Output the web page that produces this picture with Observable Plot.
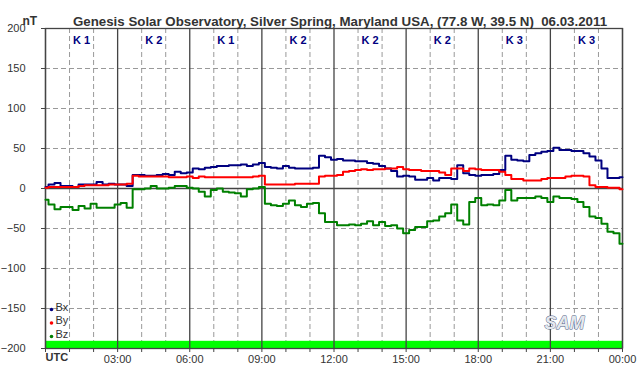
<!DOCTYPE html>
<html>
<head>
<meta charset="utf-8">
<script src="https://cdn.jsdelivr.net/npm/d3@7"></script>
<script src="https://cdn.jsdelivr.net/npm/@observablehq/plot@0.6"></script>
<style>
  html, body { margin: 0; padding: 0; background: #fff; }
  svg { display: block; }
</style>
</head>
<body>
<div id="chart"></div>
<script>
// Title / labels
const title = "Genesis Solar Observatory, Silver Spring, Maryland USA, (77.8 W, 39.5 N)  06.03.2011";
const unitLabel = "nT";
const kLabels = ["K 1", "K 2", "K 1", "K 2", "K 2", "K 2", "K 3", "K 3"];
const yTicks = [-200, -150, -100, -50, 0, 50, 100, 150, 200];
const xTickLabels = ["UTC", "03:00", "06:00", "09:00", "12:00", "15:00", "18:00", "21:00", "00:00"];
const seriesNames = ["Bx", "By", "Bz"];
const seriesColors = ["#000080", "#ff0000", "#008000"];

// Values every 15 minutes from 00:00 to 24:00 (nT)
const bx = [
  2, 5, 7, 3, 3, 2, 5, 5, 5, 8, 5, 6, 5, 5, 3, 17, 17, 16, 16, 17, 18, 17, 21, 19, 20,
  25, 24, 26, 27, 28, 28, 29, 29, 30, 28, 30, 32, 27, 26, 25, 28, 26, 25, 25, 25, 26, 41, 39, 36,
  37, 35, 35, 34, 34, 32, 31, 28, 25, 22, 15, 16, 15, 11, 11, 13, 10, 13, 13, 12, 29, 19, 17, 16,
  17, 17, 18, 23, 41, 36, 35, 34, 42, 44, 46, 47, 51, 48, 48, 47, 47, 44, 40, 35, 25, 13, 13, 14
];
const by = [
  1, 2, 2, 2, 2, 2, 3, 4, 4, 4, 4, 5, 5, 5, 6, 16, 15, 15, 15, 15, 15, 14, 14, 14, 15,
  13, 15, 14, 14, 14, 14, 14, 14, 14, 14, 15, 16, 5, 5, 5, 5, 5, 6, 6, 6, 6, 15, 16, 16,
  17, 21, 22, 23, 24, 23, 24, 24, 25, 25, 27, 24, 23, 23, 22, 22, 22, 20, 17, 25, 25, 22, 25, 24,
  23, 23, 23, 21, 17, 12, 12, 10, 10, 10, 12, 13, 13, 13, 15, 16, 16, 15, 4, 2, 2, 1, 1, -1
];
const bz = [
  -14, -20, -26, -23, -23, -27, -22, -25, -19, -24, -24, -24, -20, -18, -24, -1, -1, 0, 3, 0, 0, 1, 3, 3, 1,
  0, -4, -10, -2, 0, -4, -5, -6, -10, -1, 0, 2, -19, -21, -22, -19, -15, -21, -23, -19, -18, -31, -42, -42,
  -46, -46, -45, -46, -44, -41, -46, -42, -47, -46, -50, -56, -52, -48, -48, -41, -40, -35, -31, -20, -40, -45, -17, -12,
  -21, -20, -21, -15, -2, -15, -12, -12, -12, -10, -12, -17, -10, -12, -12, -13, -17, -23, -35, -37, -44, -54, -56, -69
];
// K-index activity bar at the bottom (quiet = green)
const kBar = [{start: 0, end: 24, low: -200, high: -191}];

const seriesValues = [bx, by, bz];
const rows = [];
seriesValues.forEach((vals, s) => vals.forEach((v, i) => rows.push({series: seriesNames[s], t: i / 4, v})));

const hourTicks = d3.range(0, 25);
const majorTicks = hourTicks.filter(h => h % 3 === 0);
const minorTicks = hourTicks.filter(h => h % 3 !== 0);
const font = "'Liberation Sans', Arial, sans-serif";
const textColor = "#333";

const legendMarks = seriesNames.flatMap((name, i) => [
  Plot.dot([name], {frameAnchor: "bottom-left", dx: 6, dy: -39 + i * 13.5, r: 1.8, fill: seriesColors[i], stroke: null}),
  Plot.text([name], {frameAnchor: "bottom-left", dx: 10, dy: -38 + i * 13.5, text: d => d, textAnchor: "start", fontSize: 11, fill: textColor})
]);

const chart = Plot.plot({
  width: 642,
  height: 376,
  marginLeft: 45,
  marginRight: 20,
  marginTop: 28,
  marginBottom: 28,
  style: {fontFamily: font, background: "#fff", color: textColor},
  x: {domain: [0, 24]},
  y: {domain: [-200, 200]},
  color: {domain: seriesNames, range: seriesColors},
  marks: [
    Plot.ruleY(yTicks.filter(d => d !== 0 && Math.abs(d) !== 200), {stroke: "#999", strokeDasharray: "5,3", strokeWidth: 1}),
    Plot.ruleX(minorTicks, {stroke: "#999", strokeDasharray: "5,3", strokeWidth: 1}),
    Plot.rect(kBar, {x1: "start", x2: "end", y1: "low", y2: "high", fill: "#00ff00"}),
    Plot.ruleX(majorTicks, {stroke: "#444", strokeWidth: 1.3}),
    Plot.ruleY([0], {stroke: "#444", strokeWidth: 1.3}),
    Plot.frame({stroke: "#444", strokeWidth: 1.3}),
    Plot.line(rows, {x: "t", y: "v", z: "series", stroke: "series", strokeWidth: 2, curve: "step"}),
    Plot.axisY({ticks: yTicks, tickSize: 4, tickPadding: 16, fontSize: 11, label: null, stroke: "#444", fill: textColor}),
    Plot.axisX({ticks: hourTicks, tickSize: 4, tickPadding: 3, fontSize: 11, label: null, stroke: "#444", fill: textColor,
      tickFormat: d => (d % 3 === 0 && d > 0) ? xTickLabels[d / 3] : ""}),
    Plot.text([xTickLabels[0]], {frameAnchor: "bottom-left", dy: 12, text: d => d, textAnchor: "start", fontSize: 11, fontWeight: "bold", fill: textColor}),
    Plot.text(kLabels, {x: (d, i) => 1.5 + 3 * i, frameAnchor: "top", dy: 8, text: d => d, fontSize: 11, fontWeight: "bold", fill: "#000080"}),
    Plot.text([title], {frameAnchor: "top", dx: 6, dy: -12, text: d => d, fontSize: 13.3, fontWeight: "bold", fill: textColor}),
    Plot.text([unitLabel], {frameAnchor: "top-left", dx: -23, dy: -12, text: d => d, fontSize: 12, fontWeight: "bold", fill: textColor}),
    ...legendMarks,
    Plot.text(["SAM"], {frameAnchor: "bottom-right", dx: -38, dy: -20, text: d => d, fontSize: 18, fontStyle: "italic", fontWeight: "bold", fill: "#e4e8ee", stroke: "#4a5a80", strokeWidth: 0.9})
  ]
});
document.getElementById("chart").appendChild(chart);
</script>
</body>
</html>
